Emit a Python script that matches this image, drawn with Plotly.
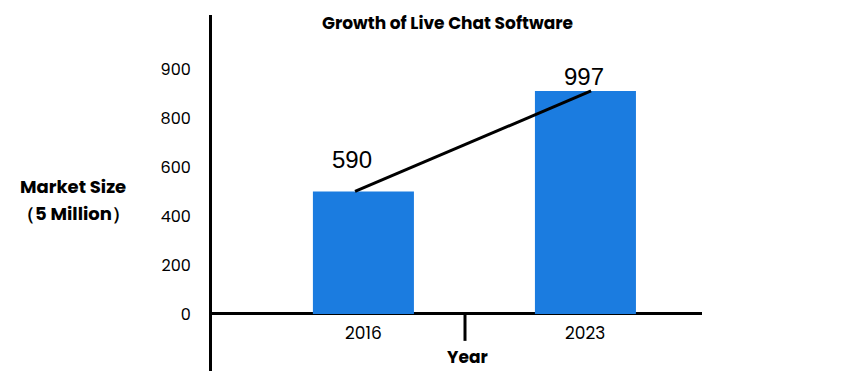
import plotly.graph_objects as go

years = ["2016", "2023"]
bar_values = [500, 910]
value_labels = ["590", "997"]
tick_positions = [0, 200, 400, 600, 800, 1000]
tick_labels = ["0", "200", "400", "600", "800", "900"]

BLUE = "#1B7CE0"
FONT = "Poppins, Open Sans, Noto Sans, sans-serif"

# page offset compensation (browser body margin)
OX, OY = 8, 8
W, H = 848 - OX, 371 - OY
L, T = 212 - OX, 15 - OY
PW, PH = 490, 356

def px(x):
    return (x - OX - L) / PW

def py(y):
    return 1 - (y - OY - T) / PH

fig = go.Figure()
fig.add_trace(go.Bar(x=years, y=bar_values, marker=dict(color=BLUE, line=dict(width=0)),
                     width=0.455, hoverinfo="skip"))
# trend line joining the bar tops (drawn slightly offset, as in the original)
fig.add_trace(go.Scatter(x=list(range(len(years))), y=bar_values, mode="lines",
                         xaxis="x2", line=dict(color="black", width=3), hoverinfo="skip"))

ann = []
shifts = [(-11, 32), (-1, 14)]
# on a category axis, annotation x is given as the category index
for i, (v, t, (dx, dy)) in enumerate(zip(bar_values, value_labels, shifts)):
    ann.append(dict(xref="x", yref="y", x=i, y=v, text=t, showarrow=False,
                    xshift=dx, yshift=dy,
                    font=dict(family="Liberation Sans, Arial", size=24, color="black")))
for i, yr in enumerate(years):
    ann.append(dict(xref="x", yref="y", x=i, y=0, text=yr, showarrow=False, yshift=-19,
                    font=dict(family=FONT, size=17, color="black")))

ann += [
    dict(xref="paper", yref="paper", x=px(447), y=py(23),
         text="<b>Growth of Live Chat Software</b>", showarrow=False,
         xanchor="center", yanchor="middle", font=dict(family=FONT, size=17, color="black")),
    dict(xref="paper", yref="paper", x=px(73), y=py(186),
         text="<b>Market Size</b>", showarrow=False, xanchor="center", yanchor="middle",
         font=dict(family=FONT, size=18, color="black")),
    dict(xref="paper", yref="paper", x=px(73), y=py(213),
         text="<b>（5 Million）</b>", showarrow=False, xanchor="center", yanchor="middle",
         font=dict(family=FONT, size=18, color="black")),
    dict(xref="paper", yref="paper", x=px(467), y=py(357),
         text="<b>Year</b>", showarrow=False, xanchor="center", yanchor="middle",
         font=dict(family=FONT, size=17, color="black")),
]

shapes = [
    dict(type="line", xref="paper", yref="y", x0=px(465), x1=px(465),
         y0=0, y1=-110, line=dict(color="black", width=3)),
]

fig.update_layout(
    width=W, height=H,
    margin=dict(l=L, r=W - L - PW, t=T, b=H - T - PH),
    paper_bgcolor="white", plot_bgcolor="white",
    showlegend=False,
    annotations=ann, shapes=shapes,
    xaxis=dict(type="category", range=[-0.682, 1.525], showticklabels=False,
               showgrid=False, zeroline=False, showline=False, ticks=""),
    xaxis2=dict(overlaying="x", range=[-0.606, 1.470], visible=False),
    yaxis=dict(range=[-233, 1220], tickvals=tick_positions, ticktext=tick_labels,
               showgrid=False, zeroline=True, zerolinecolor="black", zerolinewidth=3,
               showline=True, linecolor="black", linewidth=3, ticks="",
               ticklabelstandoff=15,
               tickfont=dict(family=FONT, size=16, color="black")),
)

fig.write_html("out.html")
